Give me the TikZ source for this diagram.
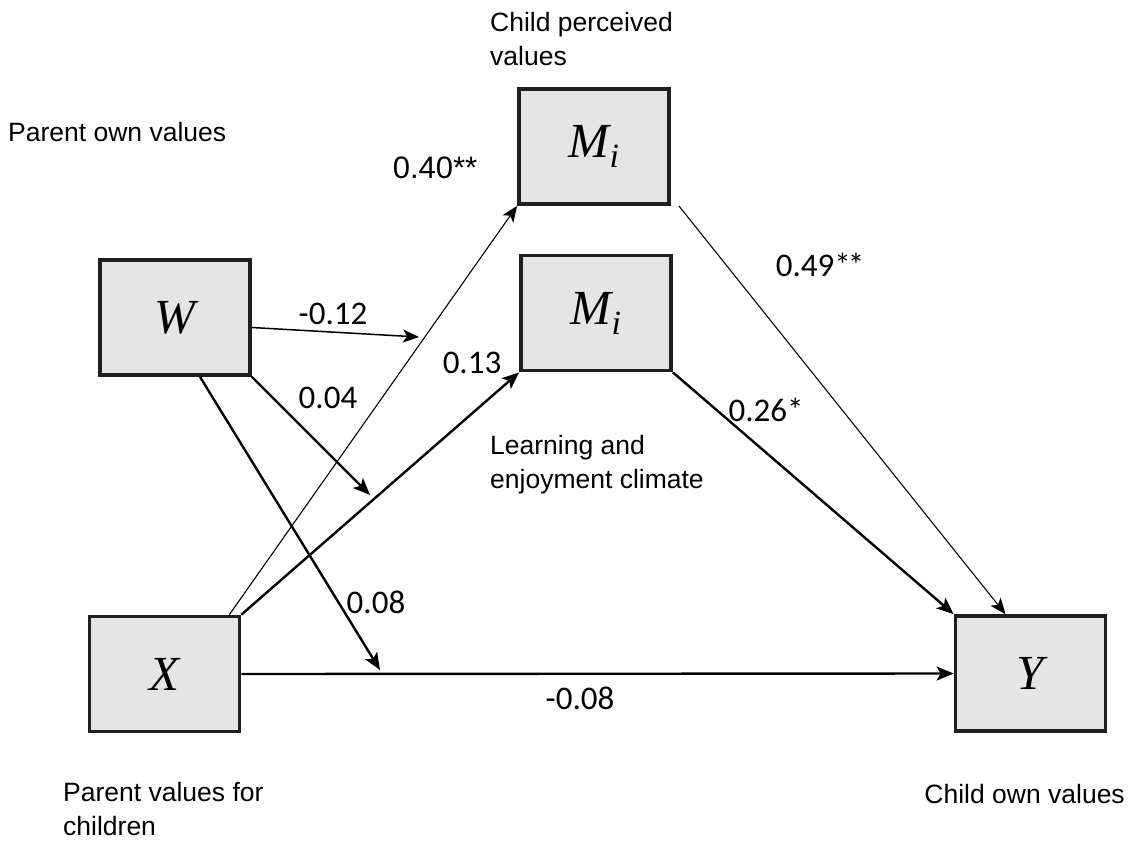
\documentclass[tikz,border=0pt]{standalone}
\usepackage{fontspec}
\setmainfont{Liberation Sans}
\newfontfamily\calib{Carlito}
\newfontfamily\tmi{Liberation Serif}
\usetikzlibrary{arrows.meta,calc}
\newcommand{\mvar}[1]{{\tmi\itshape #1}}
\newcommand{\mvarsub}[2]{{\tmi\itshape #1\raisebox{-10pt}{\fontsize{34}{34}\selectfont #2}}}
\begin{document}
\begin{tikzpicture}[x=1pt,y=-1pt,
  box/.style={draw=black!88,fill=black!10,line width=3.7pt,minimum width=150pt,minimum height=115pt,inner sep=0pt,font=\fontsize{49}{49}\selectfont},
  lbl/.style={inner sep=0pt,align=left,anchor=north west,font=\fontsize{26.5}{34}\selectfont},
  coef/.style={inner sep=0pt,font=\calib\fontsize{33}{33}\selectfont},
  thickarrow/.style={line width=2.4pt,-{Stealth[length=17pt,width=14pt,inset=4pt]}},
  thinarrow/.style={line width=1.1pt,-{Stealth[length=16pt,width=13pt,inset=4pt]}},
]
\path[use as bounding box] (0,0) rectangle (1133,841);

% boxes
\node[box] (M1) at (594,146.5) {\mvarsub{M}{i}};
\node[box] (M2) at (596,313) {\mvarsub{M}{i}};
\node[box] (W) at (175,317.5) {\mvar{W}};
\node[box] (X) at (164.5,674) {\mvar{X}};
\node[box] (Y) at (1030.5,673.5) {\mvar{Y}};

% target points on paths
\coordinate (t1) at (419,337);
\coordinate (t2) at (370,495);
\coordinate (t3) at (380,670);

% connectors
\draw[thinarrow] ($(X.north east)+(-12,0)$) -- (M1.south west);
\draw[thickarrow] (X.north east) -- (M2.south west);
\draw[thinarrow,line width=1.5pt] ($(W.east)+(0,10)$) -- (t1);
\draw[thickarrow] (W.south east) -- (t2);
\draw[thickarrow] ($(W.south)+(25,0)$) -- (t3);
\draw[thickarrow] (X.east) -- (Y.west);
\draw[thickarrow] (M2.south east) -- (Y.north west);
\draw[thinarrow] ($(M1.south east)+(8,0)$) -- ($(Y.north)+(-25,0)$);

% coefficients
\node[coef] (c1) at (333,314) {-0.12};
\node[coef] (c2) at (472,363) {0.13};
\node[coef] (c3) at (328,398) {0.04};
\node[coef] (c4) at (766,410) {0.26*};
\node[coef] (c5) at (376,602) {0.08};
\node[coef] (c6) at (580,698) {-0.08};
\node[coef] (c7) at (820,265) {0.49*\kern-3pt*};
\node[inner sep=0pt,font=\fontsize{31}{31}\selectfont] (c8) at (435,168) {0.40**};

% text labels
\node[lbl] (l1) at (490,12) {Child perceived\\values};
\node[lbl] (l2) at (490,435) {Learning and\\enjoyment climate};
\node[lbl] (l3) at (8,122) {Parent own values};
\node[lbl,anchor=north east] (l4) at (1125,784) {Child own values};
\node[lbl] (l5) at (63,782) {Parent values for\\children};
\end{tikzpicture}
\end{document}
